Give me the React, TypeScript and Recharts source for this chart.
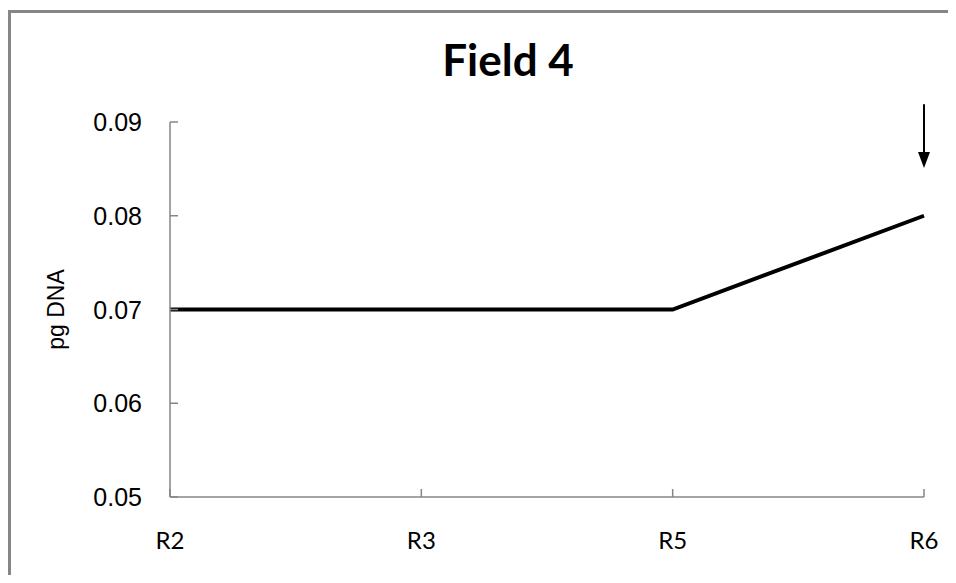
import React from "react"
import { CartesianGrid, Label, Line, LineChart, ReferenceLine, XAxis, YAxis } from "recharts"

const categories = ["R2", "R3", "R5", "R6"]
const dnaValues = [0.07, 0.07, 0.07, 0.08]
const yTicks = [0.05, 0.06, 0.07, 0.08, 0.09]
const arrowTop = 0.0919
const arrowTip = 0.0851

const data = categories.map((name, i) => ({ name, dna: dnaValues[i] }))

const AXIS_GRAY = "#868686"

function YTick(props: any) {
  const { x, y, payload } = props
  return (
    <g>
      <line x1={x} y1={y} x2={x + 8} y2={y} stroke={AXIS_GRAY} strokeWidth={1.5} />
      <text
        x={x - 28}
        y={y + 9}
        textAnchor="end"
        fontFamily="'Liberation Sans', Arial, sans-serif"
        fontSize={25}
        fill="#000"
      >
        {Number(payload.value).toFixed(2)}
      </text>
    </g>
  )
}

function XTick(props: any) {
  const { x, y, payload } = props
  return (
    <g>
      <line x1={x} y1={y - 8} x2={x} y2={y} stroke={AXIS_GRAY} strokeWidth={1.5} />
      <text
        x={x}
        y={y + 52}
        textAnchor="middle"
        fontFamily="Lato, 'Open Sans', sans-serif"
        fontSize={24}
        fill="#000"
      >
        {payload.value}
      </text>
    </g>
  )
}

// arrow pointing down at the last point
function Arrow(props: any) {
  const { x1, y1, x2, y2 } = props
  if (x1 == null) return null
  const headLen = 16
  return (
    <g>
      <line x1={x1} y1={y1} x2={x2} y2={y2 - headLen} stroke="#000" strokeWidth={2} />
      <polygon
        points={`${x2 - 6},${y2 - headLen} ${x2 + 6},${y2 - headLen} ${x2},${y2}`}
        fill="#000"
      />
    </g>
  )
}

export default function App() {
  return (
    <div style={{ position: "relative", width: 948, height: 567, overflow: "hidden" }}>
      <style>{"html,body{overflow:hidden}"}</style>
      <div
        style={{
          position: "absolute",
          left: 0,
          top: 2,
          width: 948,
          height: 565,
          boxSizing: "border-box",
          borderStyle: "solid none none solid",
          borderWidth: 3,
          borderColor: AXIS_GRAY,
        }}
      />
      <div
        style={{
          position: "absolute",
          left: 0,
          width: 948,
          boxSizing: "border-box",
          paddingLeft: 52,
          top: 26,
          textAlign: "center",
          fontFamily: "Lato, 'Open Sans', sans-serif",
          fontWeight: 700,
          fontSize: 44,
          lineHeight: "50px",
        }}
      >
        Field 4
      </div>
      <div style={{ position: "absolute", left: 0, top: 0 }}>
        <LineChart
          width={948}
          height={567}
          data={data}
          margin={{ top: 114, right: 32, bottom: 48, left: 82 }}
        >
          <CartesianGrid stroke="none" />
          <XAxis
            dataKey="name"
            stroke={AXIS_GRAY}
            strokeWidth={1.5}
            tickLine={false}
            tickSize={0}
            tickMargin={0}
            tick={<XTick />}
            height={30}
            interval={0}
          />
          <YAxis
            domain={[0.05, 0.09]}
            ticks={yTicks}
            stroke={AXIS_GRAY}
            strokeWidth={1.5}
            tickLine={false}
            tickSize={0}
            tickMargin={0}
            tick={<YTick />}
            width={80}
            interval={0}
          >
            <Label
              value="pg DNA"
              angle={-90}
              position="insideLeft"
              offset={0}
              dx={-34}
              style={{
                fontFamily: "'Liberation Sans', Arial, sans-serif",
                fontSize: 23,
                fill: "#000",
                textAnchor: "middle",
              }}
            />
          </YAxis>
          <Line
            type="linear"
            dataKey="dna"
            stroke="#000"
            strokeWidth={4}
            dot={false}
            isAnimationActive={false}
          />
          <ReferenceLine
            segment={[
              { x: "R6", y: arrowTop },
              { x: "R6", y: arrowTip },
            ]}
            ifOverflow="visible"
            shape={<Arrow />}
          />
        </LineChart>
      </div>
    </div>
  )
}
